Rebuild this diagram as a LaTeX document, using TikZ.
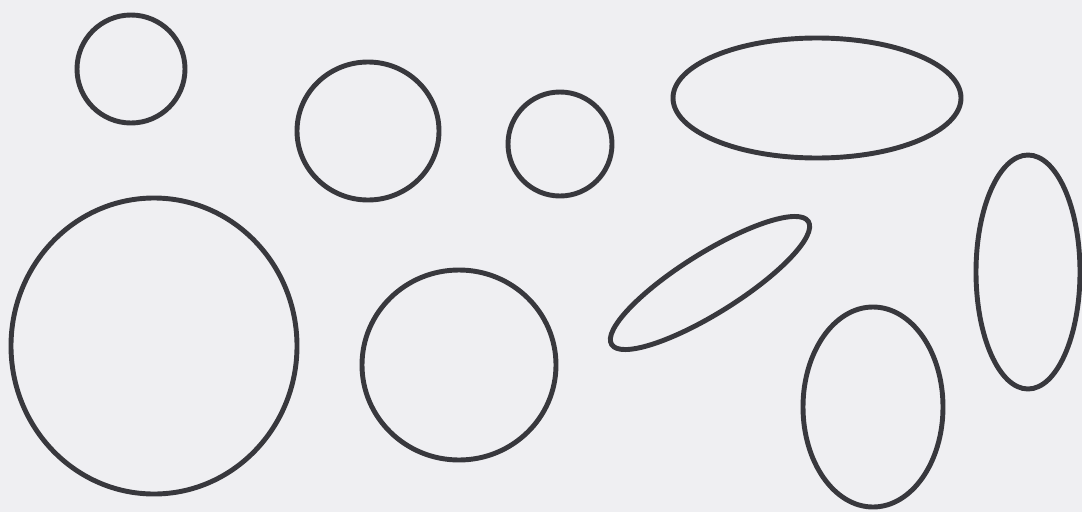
\documentclass[tikz,border=0pt]{standalone}
\usepackage{tikz}
\definecolor{paper}{HTML}{EFEFF2}
\definecolor{ink}{HTML}{38383D}

\begin{document}
\begin{tikzpicture}[x=0.02cm,y=0.02cm]
    \tikzstyle{ring}=[draw=ink,line width=2.8pt]
    \fill[paper] (0,0) rectangle (1082,512);
    \useasboundingbox (0,0) rectangle (1082,512);
    % top row
    \draw[ring] (131,443) circle [radius=54];
    \draw[ring] (368,381) ellipse [x radius=71,y radius=69];
    \draw[ring] (560,368) circle [radius=52];
    \draw[ring] (817,414) ellipse [x radius=144,y radius=60];
    % bottom row
    \draw[ring] (154,166) ellipse [x radius=143,y radius=148];
    \draw[ring] (459,147) ellipse [x radius=97,y radius=95];
    \draw[ring,rotate around={32:(710,229)}] (710,229) ellipse [x radius=116,y radius=30];
    \draw[ring] (1028,240) ellipse [x radius=52,y radius=117];
    \draw[ring] (873,105) ellipse [x radius=70,y radius=100];
\end{tikzpicture}
\end{document}
